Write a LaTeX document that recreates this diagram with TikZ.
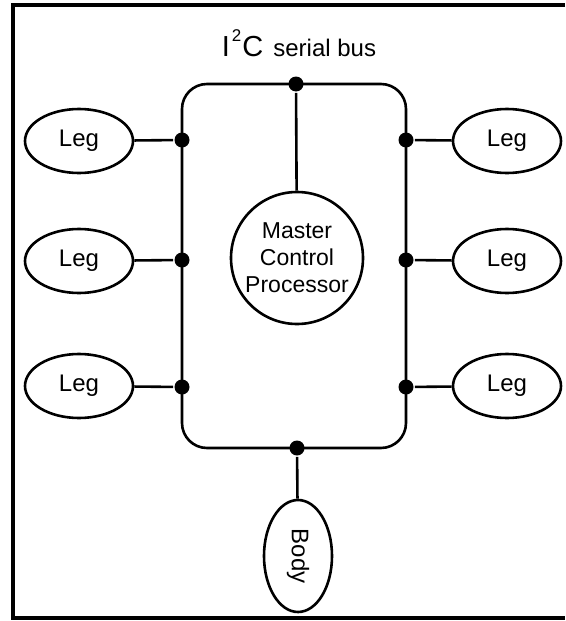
\documentclass[tikz,border=0pt]{standalone}
\usepackage{fontspec}
\setmainfont{Liberation Sans}
\usetikzlibrary{shapes.geometric}
\tikzstyle{leg} = [
  draw,
  ellipse,
  minimum width=108pt,
  minimum height=64pt,
  inner sep=0pt,
  font=\fontsize{24}{26}\selectfont,
]
\tikzstyle{master} = [
  draw,
  circle,
  minimum size=132pt,
  inner sep=0pt,
  align=center,
  font=\fontsize{23}{27}\selectfont,
]
\tikzstyle{body} = [
  draw,
  ellipse,
  minimum width=68pt,
  minimum height=112pt,
  inner sep=0pt,
  font=\fontsize{24}{26}\selectfont,
]
\tikzstyle{junction} = [
  fill,
  circle,
  inner sep=0pt,
  minimum size=15pt,
]

\begin{document}
\begin{tikzpicture}[
    x=1pt,
    y=-1pt,
    line width=2.6pt,
  ]
  \useasboundingbox (0,0) rectangle (565,621);
  % frame
  \draw[line width=3.5pt] (565,5) -- (13,5) -- (13,618) -- (565,618);
  % bus
  \draw[rounded corners=25pt] (182,84) rectangle (406,448);
  \node[
    anchor=base,
    font=\fontsize{29}{32}\selectfont
  ](bus) at (299,56) {I\hspace{2pt}\raisebox{15pt}{\fontsize{17}{18}\selectfont 2}\hspace{1pt}C\hspace{10pt}{\fontsize{24}{26}\selectfont serial bus}};
  \node[junction](jtop) at (296,84) {};
  \node[junction](jl1) at (182,140) {};
  \node[junction](jl2) at (182,260) {};
  \node[junction](jl3) at (182,387) {};
  \node[junction](jr1) at (406,140) {};
  \node[junction](jr2) at (406,260) {};
  \node[junction](jr3) at (406,387) {};
  \node[junction](jbot) at (297,448) {};
  \node[master](mcp) at (297,258) {Master\\Control\\Processor};
  \node[leg](legl1) at (79,141) {Leg};
  \node[leg](legl2) at (79,261) {Leg};
  \node[leg](legl3) at (79,386) {Leg};
  \node[leg](legr1) at (507,141) {Leg};
  \node[leg](legr2) at (507,261) {Leg};
  \node[leg](legr3) at (507,386) {Leg};
  \node[body](body) at (298,556) {\rotatebox{-90}{Body}};
  \path (jtop) edge (mcp);
  \path (legl1) edge (jl1);
  \path (legl2) edge (jl2);
  \path (legl3) edge (jl3);
  \path (jr1) edge (legr1);
  \path (jr2) edge (legr2);
  \path (jr3) edge (legr3);
  \path (jbot) edge (body);
\end{tikzpicture}
\end{document}
